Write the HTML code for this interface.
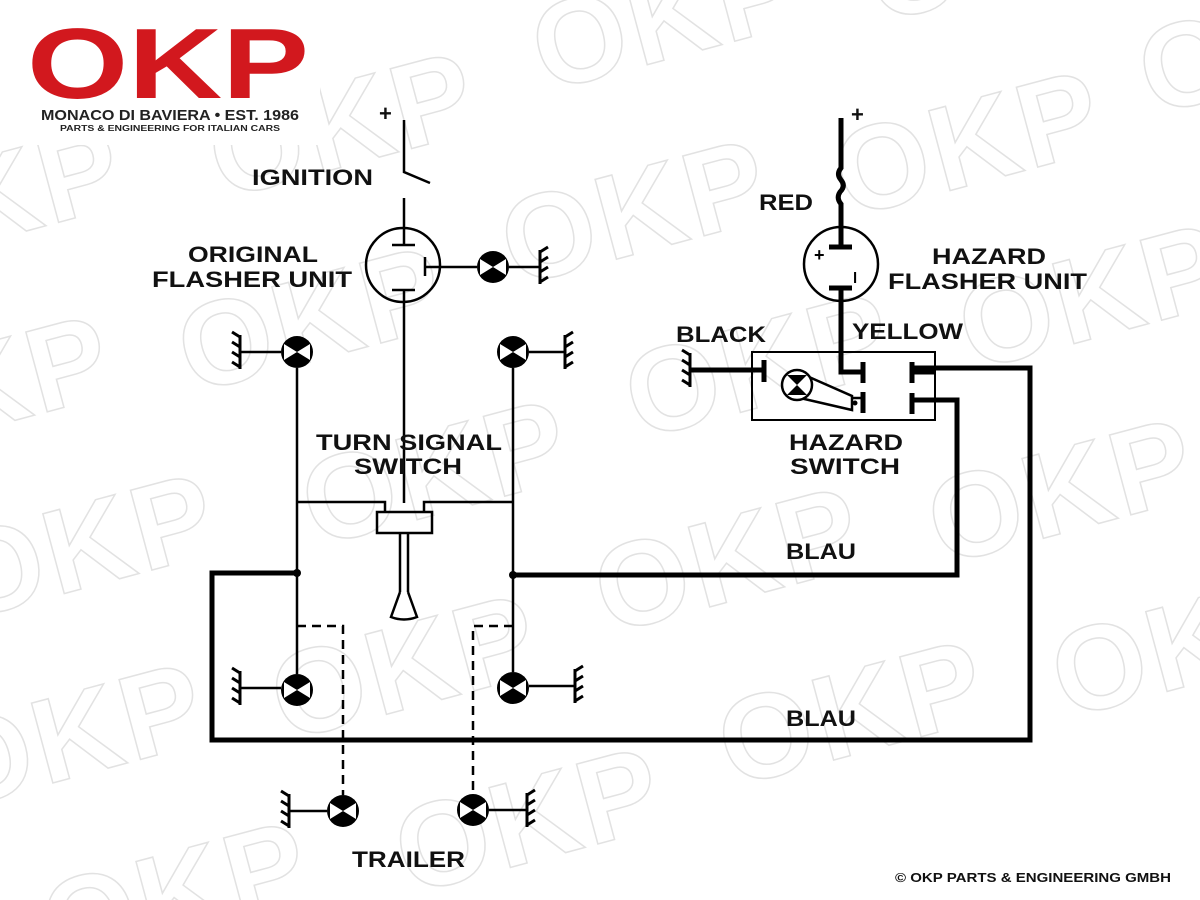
<!DOCTYPE html>
<html><head><meta charset="utf-8"><style>
html,body{margin:0;padding:0;background:#fff;width:1200px;height:900px;overflow:hidden}
svg{display:block;overflow:hidden}
.t{font-family:"Liberation Sans",sans-serif;font-weight:bold;font-size:22px;fill:#111}
.wm{font-family:"Liberation Sans",sans-serif;font-weight:bold;font-size:120px;fill:none;stroke:#e2e2e2;stroke-width:1.5;letter-spacing:4px}
</style></head><body>
<svg width="1200" height="900" viewBox="0 0 1200 900" xmlns="http://www.w3.org/2000/svg">
<defs>
<g id="lamp"><circle r="16" fill="#000"/><polygon points="-13,-8 0,0 -13,8" fill="#fff"/><polygon points="13,-8 0,0 13,8" fill="#fff"/></g>
<g id="gndL" stroke="#000" stroke-width="3" fill="none"><line x1="0" y1="-17" x2="0" y2="17"/><line x1="0" y1="-15" x2="-8" y2="-20"/><line x1="0" y1="-5" x2="-8" y2="-10"/><line x1="0" y1="5" x2="-8" y2="0"/><line x1="0" y1="15" x2="-8" y2="10"/></g>
<g id="gndR" stroke="#000" stroke-width="3" fill="none"><line x1="0" y1="-17" x2="0" y2="17"/><line x1="0" y1="-15" x2="8" y2="-20"/><line x1="0" y1="-5" x2="8" y2="-10"/><line x1="0" y1="5" x2="8" y2="0"/><line x1="0" y1="15" x2="8" y2="10"/></g>
</defs>
<!-- watermarks -->
<g transform="rotate(-15 600 450)">
<text class="wm" x="-60" y="90">OKP</text><text class="wm" x="300" y="110">OKP</text><text class="wm" x="640" y="90">OKP</text><text class="wm" x="980" y="110">OKP</text>
<text class="wm" x="-120" y="270">OKP</text><text class="wm" x="220" y="290">OKP</text><text class="wm" x="560" y="270">OKP</text><text class="wm" x="900" y="290">OKP</text><text class="wm" x="1220" y="270">OKP</text>
<text class="wm" x="-60" y="450">OKP</text><text class="wm" x="300" y="470">OKP</text><text class="wm" x="640" y="450">OKP</text><text class="wm" x="980" y="470">OKP</text>
<text class="wm" x="-120" y="630">OKP</text><text class="wm" x="220" y="650">OKP</text><text class="wm" x="560" y="630">OKP</text><text class="wm" x="900" y="650">OKP</text><text class="wm" x="1220" y="630">OKP</text>
<text class="wm" x="-60" y="810">OKP</text><text class="wm" x="300" y="830">OKP</text><text class="wm" x="640" y="810">OKP</text><text class="wm" x="980" y="830">OKP</text>
</g>
<!-- logo -->
<rect x="20" y="20" width="300" height="125" fill="#fff"/>
<text x="168" y="98" text-anchor="middle" font-family="Liberation Sans,sans-serif" font-weight="bold" font-size="100" fill="#d2181e" textLength="282" lengthAdjust="spacingAndGlyphs">OKP</text>
<text x="170" y="120" text-anchor="middle" font-family="Liberation Sans,sans-serif" font-weight="bold" font-size="15" fill="#222" textLength="258" lengthAdjust="spacingAndGlyphs">MONACO DI BAVIERA • EST. 1986</text>
<text x="170" y="131" text-anchor="middle" font-family="Liberation Sans,sans-serif" font-weight="bold" font-size="8" fill="#222" textLength="220" lengthAdjust="spacingAndGlyphs">PARTS &amp; ENGINEERING FOR ITALIAN CARS</text>

<g stroke="#000" fill="none" stroke-width="2.5">
<path d="M404 120 V172 L430 183"/>
<line x1="404" y1="198" x2="404" y2="228"/>
<circle cx="403" cy="265" r="37"/>
<line x1="392" y1="245" x2="415" y2="245"/><line x1="404" y1="228" x2="404" y2="245"/>
<line x1="392" y1="290" x2="415" y2="290"/><line x1="404" y1="290" x2="404" y2="503"/>
<line x1="425" y1="257" x2="425" y2="276"/><line x1="425" y1="267" x2="477" y2="267"/>
<line x1="509" y1="267" x2="540" y2="267"/>
<line x1="240" y1="352" x2="281" y2="352"/>
<line x1="529" y1="352" x2="565" y2="352"/>
<line x1="297" y1="368" x2="297" y2="674"/>
<line x1="513" y1="368" x2="513" y2="672"/>
<path d="M297 502 H385 V512"/><path d="M513 502 H424 V512"/>
<rect x="377" y="512" width="55" height="21"/>
<line x1="400" y1="533" x2="400" y2="592"/><line x1="408" y1="533" x2="408" y2="592"/>
<path d="M400 592 L391 617 Q404 622 417 617 L408 592"/>
<line x1="240" y1="688" x2="281" y2="688"/>
<line x1="529" y1="686" x2="575" y2="686"/>
<line x1="289" y1="811" x2="327" y2="811"/>
<line x1="489" y1="810" x2="527" y2="810"/>
</g>
<g stroke="#000" fill="none" stroke-width="2.5" stroke-dasharray="9,6">
<path d="M297 626 H343 V795"/>
<path d="M513 626 H473 V794"/>
</g>
<g stroke="#000" fill="none" stroke-width="5">
<path d="M297 573 H212 V740 H1030 V368 H912"/>
<path d="M513 575 H957 V400 H912"/>
<path d="M841 118 V168 q-5 6 0 12 q5 6 -1 12 q-4 6 1 12 V247"/>
<path d="M841 288 V372 H862"/>
<path d="M690 370 H764"/>
</g>
<circle cx="297" cy="573" r="4"/><circle cx="513" cy="575" r="4"/>
<g stroke="#000" fill="none">
<circle cx="841" cy="264" r="37" stroke-width="2.5"/>
<line x1="829" y1="247" x2="852" y2="247" stroke-width="5"/>
<line x1="829" y1="288" x2="852" y2="288" stroke-width="5"/>
<rect x="752" y="352" width="183" height="68" stroke-width="2"/>
<line x1="764" y1="360" x2="764" y2="382" stroke-width="5"/>
<line x1="863" y1="362" x2="863" y2="383" stroke-width="5"/>
<line x1="863" y1="392" x2="863" y2="413" stroke-width="5"/>
<line x1="912" y1="362" x2="912" y2="383" stroke-width="5"/>
<line x1="912" y1="393" x2="912" y2="414" stroke-width="5"/>
<line x1="912" y1="372" x2="935" y2="372" stroke-width="5"/>
<line x1="847" y1="398" x2="863" y2="398" stroke-width="2.5"/>
<path d="M800 373 L852 396 L852 410 L800 398 Z" stroke-width="2.5" fill="#fff"/>
<circle cx="855" cy="403" r="2" fill="#000"/>
</g>
<g transform="translate(797,385)"><circle r="15" fill="#fff" stroke="#000" stroke-width="2.5"/><polygon points="-10,-10 10,-10 0,0" fill="#000"/><polygon points="-10,10 10,10 0,0" fill="#000"/></g>
<text x="814" y="261" font-family="Liberation Sans,sans-serif" font-weight="bold" font-size="18">+</text>
<text x="853" y="283" font-family="Liberation Sans,sans-serif" font-weight="bold" font-size="15">l</text>
<use href="#gndR" x="540" y="267"/>
<use href="#gndL" x="240" y="352"/><use href="#gndR" x="565" y="352"/>
<use href="#gndL" x="240" y="688"/><use href="#gndR" x="575" y="686"/>
<use href="#gndL" x="289" y="811"/><use href="#gndR" x="527" y="810"/>
<use href="#gndL" x="690" y="370"/>
<use href="#lamp" x="493" y="267"/>
<use href="#lamp" x="297" y="352"/><use href="#lamp" x="513" y="352"/>
<use href="#lamp" x="297" y="690"/><use href="#lamp" x="513" y="688"/>
<use href="#lamp" x="343" y="811"/><use href="#lamp" x="473" y="810"/>
<text class="t" x="379" y="121" font-size="28">+</text>
<text class="t" x="851" y="122" font-size="28">+</text>
<text class="t" x="252" y="185" textLength="121" lengthAdjust="spacingAndGlyphs">IGNITION</text>
<text class="t" x="188" y="262" textLength="130" lengthAdjust="spacingAndGlyphs">ORIGINAL</text>
<text class="t" x="152" y="287" textLength="200" lengthAdjust="spacingAndGlyphs">FLASHER UNIT</text>
<text class="t" x="316" y="450" textLength="186" lengthAdjust="spacingAndGlyphs">TURN SIGNAL</text>
<text class="t" x="354" y="474" textLength="108" lengthAdjust="spacingAndGlyphs">SWITCH</text>
<text class="t" x="759" y="210" textLength="54" lengthAdjust="spacingAndGlyphs">RED</text>
<text class="t" x="932" y="264" textLength="114" lengthAdjust="spacingAndGlyphs">HAZARD</text>
<text class="t" x="888" y="289" textLength="199" lengthAdjust="spacingAndGlyphs">FLASHER UNIT</text>
<text class="t" x="676" y="342" textLength="90" lengthAdjust="spacingAndGlyphs">BLACK</text>
<text class="t" x="852" y="339" textLength="111" lengthAdjust="spacingAndGlyphs">YELLOW</text>
<text class="t" x="789" y="450" textLength="114" lengthAdjust="spacingAndGlyphs">HAZARD</text>
<text class="t" x="790" y="474" textLength="110" lengthAdjust="spacingAndGlyphs">SWITCH</text>
<text class="t" x="786" y="559" textLength="70" lengthAdjust="spacingAndGlyphs">BLAU</text>
<text class="t" x="786" y="726" textLength="70" lengthAdjust="spacingAndGlyphs">BLAU</text>
<text class="t" x="352" y="867" textLength="113" lengthAdjust="spacingAndGlyphs">TRAILER</text>
<text x="895" y="882" font-family="Liberation Sans,sans-serif" font-weight="bold" font-size="13" fill="#111" textLength="276" lengthAdjust="spacingAndGlyphs">© OKP PARTS &amp; ENGINEERING GMBH</text>
</svg>
</body></html>
